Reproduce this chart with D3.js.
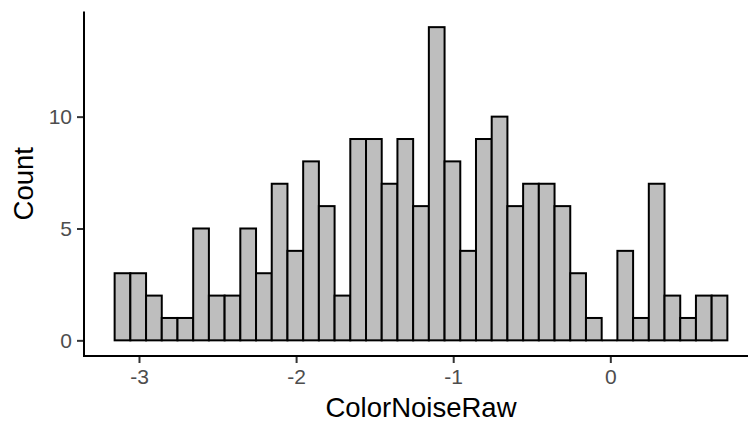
<!DOCTYPE html>
<html>
<head>
<meta charset="utf-8">
<script src="https://cdn.jsdelivr.net/npm/d3@7"></script>
<style>
  body { margin: 0; background: #fff; }
  text { font-family: "Liberation Sans", Arial, sans-serif; }
</style>
</head>
<body>
<div id="chart"></div>
<script>
// histogram of ColorNoiseRaw, bin width 0.1
const binStart = -3.155;
const binWidth = 0.1;
const counts = [3, 3, 2, 1, 1, 5, 2, 2, 5, 3, 7, 4, 8, 6, 2, 9, 9, 7, 9, 6,
                14, 8, 4, 9, 10, 6, 7, 7, 6, 3, 1, 0, 4, 1, 7, 2, 1, 2, 2];
const xTicks = [-3, -2, -1, 0];
const yTicks = [0, 5, 10];

const width = 748, height = 422;

const bins = counts.map((c, i) => ({
  x0: binStart + i * binWidth,
  x1: binStart + (i + 1) * binWidth,
  count: c
}));

// ggplot-like 5% expansion
const xMin = bins[0].x0, xMax = bins[bins.length - 1].x1;
const xPad = (xMax - xMin) * 0.05;
const yMax = d3.max(counts);
const yPad = yMax * 0.05;

const x = d3.scaleLinear()
  .domain([xMin - xPad, xMax + xPad])
  .range([84, 758]);

const y = d3.scaleLinear()
  .domain([-yPad, yMax + yPad])
  .range([356, 11.5]);

const svg = d3.select("#chart")
  .append("svg")
  .attr("width", width)
  .attr("height", height);

// bars
svg.append("g")
  .selectAll("rect")
  .data(bins.filter(d => d.count > 0))
  .enter()
  .append("rect")
  .attr("x", d => x(d.x0))
  .attr("width", d => x(d.x1) - x(d.x0))
  .attr("y", d => y(d.count))
  .attr("height", d => y(0) - y(d.count))
  .attr("fill", "#bebebe")
  .attr("stroke", "#000")
  .attr("stroke-width", 2);

// empty bin -> just a flat line at zero
svg.append("g")
  .selectAll("line")
  .data(bins.filter(d => d.count === 0))
  .enter()
  .append("line")
  .attr("x1", d => x(d.x0))
  .attr("x2", d => x(d.x1))
  .attr("y1", y(0))
  .attr("y2", y(0))
  .attr("stroke", "#000")
  .attr("stroke-width", 2);

// axes (plain hyphen for negatives, like R)
const xAxis = svg.append("g")
  .attr("transform", `translate(0,${y.range()[0]})`)
  .call(d3.axisBottom(x).tickValues(xTicks).tickSize(7).tickPadding(6).tickFormat(d => String(d)));

const yAxis = svg.append("g")
  .attr("transform", `translate(${x.range()[0]},0)`)
  .call(d3.axisLeft(y).tickValues(yTicks).tickSize(7).tickPadding(5).tickFormat(d => String(d)));

[xAxis, yAxis].forEach(g => {
  g.select(".domain").remove();
  g.selectAll(".tick line").attr("stroke", "#333").attr("stroke-width", 2);
  g.selectAll(".tick text")
    .attr("fill", "#4d4d4d")
    .style("font-size", "21px")
    .style("font-family", "'Liberation Sans', Arial, sans-serif");
});

// plain axis lines
svg.append("line")
  .attr("x1", x.range()[0]).attr("x2", x.range()[1])
  .attr("y1", y.range()[0]).attr("y2", y.range()[0])
  .attr("stroke", "#000").attr("stroke-width", 2);
svg.append("line")
  .attr("x1", x.range()[0]).attr("x2", x.range()[0])
  .attr("y1", y.range()[0] + 1).attr("y2", y.range()[1])
  .attr("stroke", "#000").attr("stroke-width", 2);

// titles
svg.append("text")
  .attr("x", (x.range()[0] + x.range()[1]) / 2)
  .attr("y", 416.5)
  .attr("text-anchor", "middle")
  .style("font-size", "27.5px")
  .attr("fill", "#000")
  .text("ColorNoiseRaw");

svg.append("text")
  .attr("transform", `translate(33,${(y.range()[0] + y.range()[1]) / 2}) rotate(-90)`)
  .attr("text-anchor", "middle")
  .style("font-size", "27.5px")
  .attr("fill", "#000")
  .text("Count");
</script>
</body>
</html>
